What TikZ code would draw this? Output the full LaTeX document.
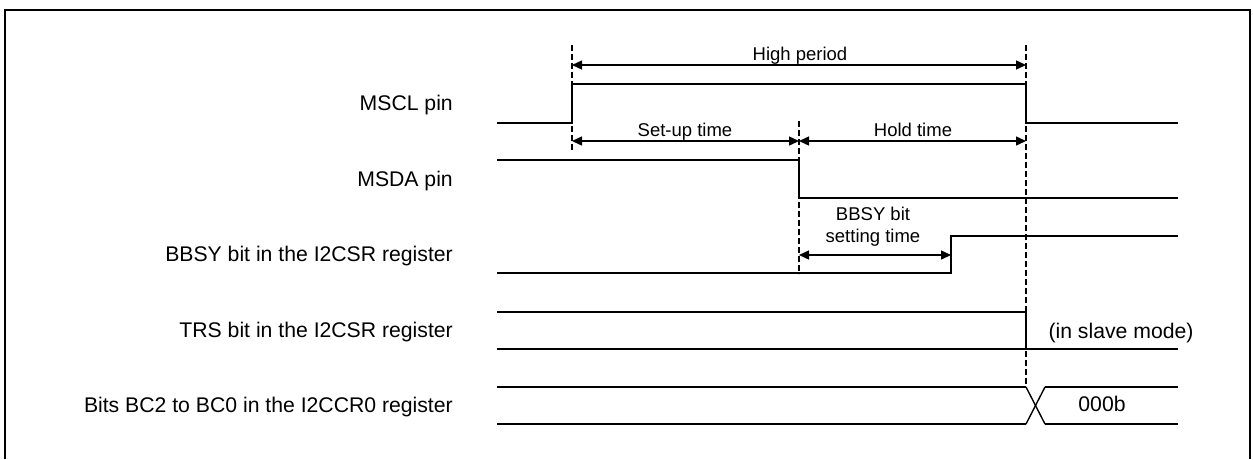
\documentclass[tikz,border=0pt]{standalone}
\usepackage{fontspec}
\setmainfont{Liberation Sans}
\usetikzlibrary{arrows.meta}
\begin{document}
\begin{tikzpicture}[x=1pt,y=-1pt,
  sig/.style={line width=2.2pt, line join=miter},
  thinsig/.style={line width=1.4pt},
  guide/.style={line width=2.6pt, dash pattern=on 6pt off 3pt},
  dim/.style={line width=1.4pt, {Triangle[length=10pt,width=9pt]}-{Triangle[length=10pt,width=9pt]}},
  lbl/.style={font=\fontsize{21.2}{25}\selectfont, inner sep=0pt},
  ann/.style={font=\fontsize{18.5}{22}\selectfont, inner sep=0pt, align=center}]
\useasboundingbox (0,0) rectangle (1253,459);
\draw[line width=2.8pt] (5,459) -- (5,10) -- (1250,10) -- (1250,459);

% signal labels
\node[lbl, anchor=base east] (lmscl) at (453,110) {MSCL pin};
\node[lbl, anchor=base east] (lmsda) at (453,186.5) {MSDA pin};
\node[lbl, anchor=base east] (lbbsy) at (453,261.5) {BBSY bit in the I2CSR register};
\node[lbl, anchor=base east] (ltrs) at (453,337.5) {TRS bit in the I2CSR register};
\node[lbl, anchor=base east] (lbc) at (453,412) {Bits BC2 to BC0 in the I2CCR0 register};

% waveforms
\draw[sig] (497,123) -- (572,123) -- (572,84) -- (1026,84) -- (1026,123) -- (1178,123);
\draw[sig] (497,160) -- (799,160) -- (799,198) -- (1178,198);
\draw[sig] (497,273) -- (951,273) -- (951,236) -- (1178,236);
\draw[sig] (497,312) -- (1026,312) -- (1026,349);
\draw[sig] (497,349) -- (1178,349);
\draw[sig] (497,387) -- (1026,387);
\draw[sig] (497,424) -- (1026,424);
\draw[sig] (1045,387) -- (1178,387);
\draw[sig] (1045,424) -- (1178,424);
\draw[thinsig] (1026,387) -- (1045,424);
\draw[thinsig] (1026,424) -- (1045,387);

% guide lines
\coordinate (gAt) at (572,45);  \coordinate (gAb) at (572,150);
\coordinate (gBt) at (799,121); \coordinate (gBb) at (799,274);
\coordinate (gCt) at (1026,45); \coordinate (gCb) at (1026,387);
\draw[guide] (gAt) -- (gAb);
\draw[guide] (gBt) -- (gBb);
\draw[guide] (gCt) -- (gCb);

% dimension arrows
\coordinate (hpL) at (572,65);  \coordinate (hpR) at (1026,65);
\coordinate (suL) at (572,141); \coordinate (suR) at (799,141);
\coordinate (hdL) at (799,141); \coordinate (hdR) at (1026,141);
\coordinate (bbL) at (799,255); \coordinate (bbR) at (951,255);
\draw[dim] (hpL) -- (hpR);
\draw[dim] (suL) -- (suR);
\draw[dim] (hdL) -- (hdR);
\draw[dim] (bbL) -- (bbR);

\node[ann, anchor=base] (thp) at (800,60) {High period};
\node[ann, anchor=base] (tsu) at (685,136) {Set-up time};
\node[ann, anchor=base] (thd) at (913,136) {Hold time};
\node[ann, anchor=base] (tbb1) at (873,220.5) {BBSY bit};
\node[ann, anchor=base] (tbb2) at (873,242) {setting time};
\node[lbl, anchor=base] (tslave) at (1121,338) {(in slave mode)};
\node[lbl, anchor=base] (tzero) at (1102,411) {000b};
\end{tikzpicture}
\end{document}
